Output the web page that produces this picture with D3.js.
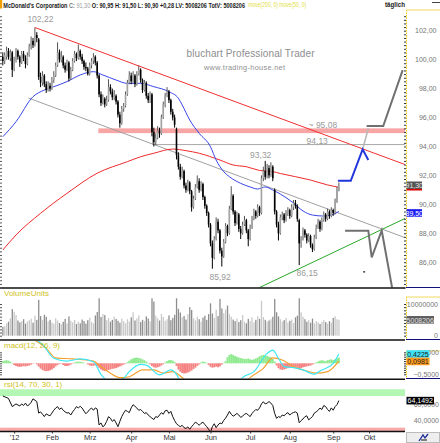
<!DOCTYPE html>
<html><head><meta charset="utf-8">
<script src="https://cdn.jsdelivr.net/npm/d3@7"></script>
<style>
body{margin:0;background:#fff}
svg{display:block}
text{font-family:"Liberation Sans",Arial,sans-serif}
</style></head>
<body><svg id="c" width="440" height="443"></svg>
<script>
// ---------- DATA ----------
const months = ["'12","Feb","Mrz","Apr","Mai","Jun","Jul","Aug","Sep","Okt"];
const monthStart = [6,26,46,68,88,110,131,152,175,194]; // trading-day index of first session
const open = [
100.2,99.9,100.2,100.6,100.1,100.5,99.4,100.0,100.6,100.2,
99.8,100.4,100.1,99.7,100.3,100.9,101.3,101.0,101.7,101.4,
98.8,98.4,98.9,98.3,97.9,98.2,98.0,98.6,98.9,99.6,
100.5,100.0,100.2,99.6,99.3,99.8,98.7,99.3,99.9,100.4,
100.1,100.6,100.2,99.9,99.5,99.4,99.0,99.6,99.9,100.2,
99.8,98.9,97.6,97.0,97.3,96.9,97.2,98.1,97.8,97.4,
97.5,97.1,96.2,95.6,96.6,96.8,97.6,98.4,98.9,98.5,
98.9,98.3,99.0,99.3,98.6,97.9,98.4,97.5,97.2,97.6,
95.0,94.3,94.6,95.1,94.9,96.0,96.9,97.5,97.8,97.2,
96.4,96.0,95.2,93.4,92.6,91.9,92.3,91.3,91.0,91.5,
90.9,89.8,90.4,91.2,91.6,91.0,91.4,90.5,89.9,89.4,
88.6,87.3,86.3,87.6,88.8,88.2,86.8,86.4,87.4,88.5,
88.0,89.7,90.6,89.5,88.7,89.3,88.3,88.0,88.6,88.9,
88.2,87.6,88.4,89.0,89.5,89.2,89.8,89.4,91.8,92.3,
91.9,92.5,92.0,92.6,91.0,89.5,88.6,88.0,89.1,89.3,
88.9,89.4,89.6,89.2,89.8,90.1,89.9,88.9,87.3,87.6,
88.2,87.9,87.5,87.8,87.2,86.9,87.7,88.4,88.8,88.3,
88.9,89.3,89.0,89.5,89.2,89.6,89.4,90.2,90.95];
const high = [
100.5,100.5,100.9,100.8,100.7,100.6,100.2,100.8,100.7,100.3,
100.6,100.6,100.3,100.5,101.1,101.6,101.5,102.22,101.9,101.5,
99.1,99.2,99.0,98.5,98.5,98.4,98.8,99.2,99.8,101.2,
100.7,100.6,100.3,99.8,100.0,99.9,99.5,100.1,100.6,100.5,
101.05,100.7,100.4,100.0,99.8,99.5,99.8,100.1,100.45,100.3,
99.9,99.0,97.8,97.6,97.4,97.5,98.65,98.3,98.0,97.9,
97.6,97.2,96.4,96.8,97.0,97.8,98.6,99.2,99.1,99.2,
99.0,99.2,99.6,99.4,98.7,98.6,98.5,97.7,97.8,97.7,
95.3,94.9,95.4,95.3,96.2,97.1,97.7,98.1,97.9,97.3,
96.6,96.2,95.3,93.6,92.8,92.6,92.4,91.5,91.7,91.6,
91.0,90.6,91.4,92.0,91.8,91.6,91.5,90.6,90.0,89.5,
88.7,87.5,87.8,89.1,89.0,88.3,87.0,87.6,88.7,88.6,
89.9,91.25,90.7,89.6,89.5,89.4,88.5,88.8,89.2,89.0,
88.3,88.6,89.2,89.7,89.6,90.0,89.9,92.0,92.6,93.0,
92.8,92.7,92.9,92.7,91.1,89.6,88.8,89.3,89.5,89.4,
89.6,89.8,89.7,90.0,90.3,90.3,90.0,89.0,87.8,88.4,
88.3,88.0,88.0,87.9,87.3,87.9,88.6,89.0,88.9,89.1,
89.5,89.4,89.7,89.6,89.8,89.7,90.4,91.2,91.50];
const low = [
99.6,99.7,100.0,100.0,99.9,98.8,99.2,99.8,100.0,99.5,
99.7,99.9,99.4,99.6,100.2,100.7,100.8,100.9,101.2,98.6,
98.1,98.2,98.1,97.7,97.8,97.8,97.9,98.4,98.8,99.5,
99.8,99.8,99.4,99.1,99.2,98.5,98.6,99.2,99.8,99.9,
100.0,100.0,99.7,99.3,99.2,98.9,98.9,99.4,99.7,99.6,
98.7,97.4,96.8,96.9,96.7,96.8,97.1,97.6,97.2,97.2,
96.9,96.0,95.3,95.5,96.4,96.7,97.5,98.3,98.3,98.4,
98.1,98.2,98.9,98.4,97.7,97.8,97.3,97.0,97.0,94.7,
94.0,94.1,94.5,94.6,94.8,95.9,96.7,97.4,97.0,96.2,
95.8,95.3,93.1,92.4,91.7,91.8,91.1,90.8,90.9,90.7,
89.5,89.7,90.3,91.1,90.8,90.9,90.3,89.7,89.2,88.4,
87.1,85.55,86.2,87.5,88.0,86.6,85.7,86.3,87.3,87.8,
87.9,89.6,89.3,88.5,88.6,88.1,87.6,87.9,88.5,88.0,
87.1,87.5,88.3,88.9,89.0,89.1,89.2,89.3,91.6,91.7,
91.8,91.8,91.9,91.6,89.3,88.4,87.5,87.9,88.9,88.7,
88.8,89.2,89.0,89.1,89.6,89.7,88.8,85.8,87.0,87.5,
87.7,87.3,87.4,87.0,86.7,86.8,87.6,88.3,88.1,88.2,
88.8,88.8,88.9,89.0,89.1,89.2,89.3,90.1,90.90];
const close = [
99.9,100.3,100.6,100.2,100.5,99.3,100.0,100.6,100.2,99.8,
100.4,100.1,99.7,100.3,100.9,101.3,101.0,101.7,101.5,98.8,
98.4,98.9,98.3,97.9,98.2,98.0,98.6,98.9,99.6,100.5,
100.0,100.2,99.6,99.3,99.8,98.7,99.3,99.9,100.4,100.1,
100.6,100.2,99.9,99.5,99.4,99.0,99.6,99.9,100.2,99.8,
98.9,97.6,97.0,97.3,96.9,97.2,98.1,97.8,97.4,97.5,
97.1,96.2,95.6,96.6,96.8,97.6,98.4,98.9,98.5,98.9,
98.3,99.0,99.3,98.6,97.9,98.4,97.5,97.2,97.6,95.0,
94.3,94.6,95.1,94.9,96.0,96.9,97.5,97.8,97.2,96.4,
96.0,95.5,93.4,92.6,91.9,92.3,91.3,91.0,91.5,90.9,
89.8,90.4,91.2,91.6,91.0,91.4,90.5,89.9,89.4,88.6,
87.3,86.3,87.6,88.8,88.2,86.8,86.4,87.4,88.5,88.0,
89.7,90.6,89.5,88.7,89.3,88.3,88.0,88.6,88.9,88.2,
87.6,88.4,89.0,89.5,89.2,89.8,89.4,91.8,92.3,91.9,
92.5,92.0,92.6,91.8,89.5,88.6,88.0,89.1,89.3,88.9,
89.4,89.6,89.2,89.8,90.1,89.9,89.0,87.3,87.6,88.2,
87.9,87.5,87.8,87.2,86.9,87.7,88.4,88.8,88.3,88.9,
89.3,89.0,89.5,89.2,89.6,89.4,90.2,91.02,91.30];
const volumeM = [
2.8,3.0,3.9,4.4,5.5,8.4,7.5,6.5,4.8,4.2,
4.6,5.2,3.8,4.5,4.9,5.4,4.1,6.3,5.0,11.3,
6.2,5.0,6.6,6.0,4.5,5.0,4.2,3.8,5.5,4.8,
4.0,3.6,4.4,5.3,3.9,6.1,4.7,4.2,5.0,3.7,
4.4,3.9,5.1,4.6,3.8,4.9,5.7,4.3,3.9,6.4,
7.5,11.8,5.9,6.8,6.5,4.9,5.6,4.4,5.0,6.0,
5.3,4.7,4.1,5.4,4.6,3.9,5.2,4.5,5.8,7.4,
4.8,5.5,6.4,4.3,5.0,4.6,6.1,5.4,4.5,11.8,
10.8,6.3,5.5,4.8,6.9,5.9,4.7,5.2,6.4,4.9,
5.6,6.6,11.8,8.5,7.3,5.8,6.2,5.1,6.8,9.0,
8.1,5.5,4.8,6.0,5.2,4.4,5.7,6.3,5.0,6.8,
10.2,7.0,5.6,8.2,6.2,11.6,8.6,7.1,8.3,9.5,
6.8,6.0,5.1,4.6,5.4,4.3,4.9,6.5,4.4,3.9,
5.3,4.6,5.8,4.2,5.0,6.1,5.3,11.0,5.9,5.0,
4.4,4.8,5.2,6.0,11.6,7.4,6.1,5.2,4.5,4.9,
5.6,4.2,4.7,5.1,4.0,5.8,6.3,11.8,7.4,6.0,
5.2,4.4,4.9,4.1,5.4,3.9,4.6,4.2,3.7,4.4,
5.0,4.3,3.8,4.6,4.1,5.6,6.1,5.2,5.008206];
const macdHist = [
0.10,0.12,0.14,0.12,0.08,0.02,
-0.08,-0.12,-0.15,-0.16,-0.15,-0.13,-0.14,-0.12,-0.10,-0.06,-0.02,
0.00,-0.05,
-0.15,-0.24,-0.30,-0.34,-0.36,-0.35,-0.32,-0.28,-0.22,-0.14,-0.08,
-0.03,-0.02,
-0.08,-0.12,-0.12,-0.10,-0.06,-0.02,
0.04,0.07,0.08,0.07,0.05,0.03,0.00,
-0.05,-0.10,-0.12,-0.11,-0.09,-0.12,-0.20,
-0.28,-0.33,-0.35,-0.33,-0.30,-0.28,-0.25,-0.24,-0.22,-0.18,-0.14,
-0.10,-0.06,-0.02,
0.05,0.12,0.18,0.22,0.25,0.26,0.24,0.22,0.18,0.14,0.08,0.02,
-0.05,-0.12,-0.18,-0.20,-0.18,-0.15,-0.10,-0.04,
0.04,0.10,0.14,0.15,0.12,0.06,
-0.12,-0.28,-0.38,-0.44,-0.46,-0.45,-0.42,-0.38,-0.33,-0.26,-0.20,-0.12,-0.05,
0.04,0.08,0.06,0.02,
-0.08,-0.16,-0.20,-0.18,-0.15,-0.18,-0.14,-0.06,
0.02,0.10,
0.28,0.38,0.42,0.38,0.33,0.30,0.26,0.24,0.22,0.20,0.20,0.22,0.18,0.16,0.18,0.22,0.26,0.32,0.36,0.38,
0.36,0.34,0.30,0.28,0.20,0.08,
-0.10,-0.22,-0.28,-0.30,-0.28,-0.25,-0.22,-0.20,-0.18,-0.18,-0.16,-0.20,-0.24,-0.22,-0.18,-0.16,-0.14,-0.12,-0.10,-0.06,-0.02,
0.04,0.08,0.12,0.14,0.12,0.10,0.14,0.16,0.18,0.15,0.18,0.22,0.26];
const macdLine = [[0,1.3],[10,1.25],[17,1.1],[21,0.86],[27,0.23],[34,0.10],[41,0.20],[48,0.07],[52,-0.50],[55,-0.76],[60,-0.85],[64,-0.68],[67,-0.38],[73,-0.05],[76,-0.08],[83,-0.53],[89,-0.30],[92,-0.50],[95,-1.0],[100,-1.4],[110,-1.5],[120,-1.2],[125,-0.9],[127,-0.65],[133,-0.38],[140,0.45],[143,0.60],[146,0.23],[149,-0.15],[154,-0.20],[159,-0.30],[165,-0.50],[168,-0.35],[175,0.0],[178,0.4225]];
const macdSignal = [[0,1.2],[15,1.1],[23,0.68],[28,0.25],[37,0.20],[48,0.10],[52,-0.15],[57,-0.45],[62,-0.65],[67,-0.61],[74,-0.30],[80,-0.30],[85,-0.45],[90,-0.38],[95,-0.65],[100,-1.0],[110,-1.4],[120,-1.3],[128,-0.9],[131,-0.65],[138,-0.23],[143,0.25],[148,0.15],[154,-0.15],[161,-0.35],[166,-0.45],[172,-0.38],[178,0.0981]];
const rsi = [[0,70],[3,67],[5,56.6],[7,60],[9,57.4],[10,60],[11,58],[12,61],[13,57.5],[14,59],[15,62],[16,66.4],[18,63],[19,48.4],[20,50],[21,47],[22,44],[23,47.5],[24,46],[25,45],[26,48.4],[27,52],[28,54.8],[29,56.6],[30,53],[31,55],[32,52],[33,50],[34,48.5],[35,49],[36,46],[37,50],[38,53],[39,56.6],[40,55],[41,57],[42,54.8],[43,51],[44,47.6],[45,50],[46,53],[47,54.8],[48,52],[49,55],[50,53.5],[51,33.4],[52,36],[53,31],[54,33.4],[55,38],[56,43.9],[57,42],[58,38],[59,40.3],[60,36],[61,31.3],[62,38],[63,44],[64,48.4],[65,52],[66,50.6],[67,49],[68,55],[69,59],[70,57],[71,54.8],[72,52],[73,53],[74,50.6],[75,48],[76,49],[77,46],[78,44],[79,42],[80,40.3],[81,44],[82,43],[83,46],[84,49],[85,47],[86,51.4],[87,52],[88,48],[89,50.6],[90,44],[91,39],[92,35],[93,33],[94,31.3],[95,33],[96,30],[97,29],[98,31],[99,28],[100,31.3],[101,34],[102,37],[103,35.5],[104,33],[105,35.5],[106,37],[107,34],[108,31.3],[109,28],[110,24],[111,31.3],[112,35],[113,30],[114,33.4],[115,36],[116,35],[117,39.2],[118,42],[119,46],[120,50.6],[121,47],[122,44.5],[123,46],[124,48],[125,46],[126,43],[127,44.5],[128,47],[129,48],[130,46],[131,44],[132,48],[133,50.6],[134,53],[135,52],[136,55],[137,60],[138,62.8],[139,60],[140,61],[141,63],[142,61],[143,58],[144,48],[145,41.8],[146,44],[147,43],[148,46],[149,45],[150,47.6],[151,49],[152,46],[153,48],[154,49.2],[155,50],[156,48.4],[157,36.3],[158,39],[159,41],[160,43.9],[161,45],[162,40],[163,41.8],[164,44],[165,48.4],[166,50],[167,52],[168,54.8],[169,53],[170,58],[171,56.6],[172,53],[173,50.6],[174,55],[175,52],[176,56.6],[177,59],[178,64.1492]];
const ma50 = [[0,94.67],[7,95.71],[16,97.44],[22,97.90],[27,98.13],[34,98.48],[41,98.94],[48,99.17],[53,98.94],[60,98.59],[66,98.36],[73,98.36],[80,98.13],[88,97.78],[93,97.33],[95,96.87],[99,95.83],[104,94.91],[110,93.98],[113,93.06],[117,92.26],[120,91.91],[126,91.45],[131,91.20],[135,91.06],[139,91.20],[143,90.99],[147,90.71],[154,90.09],[159,89.54],[164,89.26],[170,89.19],[174,89.26],[178,89.50]];
const ma200 = [[0,86.84],[7,87.88],[20,89.38],[34,90.76],[50,92.15],[66,92.95],[73,93.29],[80,93.53],[90,93.82],[97,93.71],[104,93.53],[115,93.06],[122,92.72],[129,92.60],[136,92.34],[143,92.26],[147,92.13],[163,91.68],[172,91.34],[178,91.18]];
const resistLine = [[17.05,102.22],[213,92.75]];
const channelLine = [[13.5,97.35],[213,87.7]];
const supportLine = [[135.5,84.22],[213,89.02]];
const zone = {start:50.6, lo:94.92, hi:95.25, label:"~ 95,08"};
const levelLine = [[79.3,95.2],[79.3,94.13],[213,94.13]];
const projBlue = [[177.5,91.63],[184.3,91.63],[190.6,93.80],[193.6,93.06]];
const projLink = [[190.6,93.80],[193.6,95.25]];
const projUp = [[192.7,95.41],[201.5,95.41],[211.8,99.28]];
const projDown = [[181.3,88.18],[193.6,88.18],[195.4,86.33],[200.7,88.19],[206.9,83.73]];
const projDot = [191.4,85.34];
const priceTicks = [86,88,90,92,94,96,98,100,102];

// ---------- SETUP ----------
const svg = d3.select("#c");
const loc = d3.formatLocale({decimal:",",thousands:".",grouping:[3],currency:["","€"]});
const f2 = loc.format(".2f"), f4 = loc.format(".4f");
const N = close.length;
const x = d3.scaleLinear().domain([0,213]).range([2.8, 2.8+213*1.888]);
const yP = d3.scaleLinear().domain([86,102]).range([262.2,30.7]);
const yV = d3.scaleLinear().domain([0,10]).range([335.7,304]);
const yM = d3.scaleLinear().domain([-0.5,0.5]).range([374.3,352.3]);
const yR = d3.scaleLinear().domain([30,70]).range([427.7,396]);
const PR = 405;

const defs = svg.append("defs");
function clip(id,y0,y1){defs.append("clipPath").attr("id",id).append("rect").attr("x",0).attr("y",y0).attr("width",PR).attr("height",y1-y0);}
clip("cp",12,287.5); clip("cm",341,378.5); clip("cr",380,431);

svg.append("rect").attr("width",440).attr("height",443).attr("fill","#fff");

// watermark
svg.append("text").attr("x",186.5).attr("y",53.5).attr("dominant-baseline","central")
  .attr("font-size",10).attr("fill","#8e8e8e").attr("textLength",128).attr("lengthAdjust","spacing")
  .text("bluchart Professional Trader");
svg.append("text").attr("x",204).attr("y",67).attr("dominant-baseline","central")
  .attr("font-size",7.3).attr("fill","#8e8e8e").attr("textLength",81).attr("lengthAdjust","spacing")
  .text("www.trading-house.net");

// ---------- MAIN PRICE PANEL ----------
const gP = svg.append("g").attr("clip-path","url(#cp)");
const lineP = d3.line().x(d=>x(d[0])).y(d=>yP(d[1]));
gP.append("rect").attr("x",x(zone.start)).attr("width",PR-x(zone.start))
  .attr("y",yP(zone.hi)).attr("height",yP(zone.lo)-yP(zone.hi)).attr("fill","#f7a5a5");
gP.append("path").attr("d",lineP(levelLine)).attr("fill","none").attr("stroke","#a8a8a8").attr("stroke-width",1);
gP.append("path").attr("d",lineP(channelLine)).attr("fill","none").attr("stroke","#a0a0a0").attr("stroke-width",1);
const lineS = d3.line().x(d=>x(d[0])).y(d=>yP(d[1])).curve(d3.curveMonotoneX);
gP.append("path").attr("d",lineS(ma200)).attr("fill","none").attr("stroke","#ee2a2a").attr("stroke-width",1);
gP.append("path").attr("d",lineS(ma50)).attr("fill","none").attr("stroke","#3846e8").attr("stroke-width",1);

// candles
const idx = d3.range(N);
gP.append("g").selectAll("line").data(idx).join("line")
  .attr("x1",i=>x(i)).attr("x2",i=>x(i)).attr("y1",i=>yP(high[i])).attr("y2",i=>yP(low[i]))
  .attr("stroke",i=>close[i]>=open[i]?"#555":"#000").attr("stroke-width",1);
gP.append("g").selectAll("rect").data(idx).join("rect")
  .attr("x",i=>x(i)-0.8).attr("width",1.6)
  .attr("y",i=>yP(Math.max(open[i],close[i])))
  .attr("height",i=>Math.max(1,Math.abs(yP(open[i])-yP(close[i]))))
  .attr("fill",i=>close[i]>=open[i]?"#a4a4a4":"#000");

gP.append("path").attr("d",lineP(resistLine)).attr("fill","none").attr("stroke","#f03030").attr("stroke-width",1);
gP.append("path").attr("d",lineP(supportLine)).attr("fill","none").attr("stroke","#2aa82a").attr("stroke-width",1);
gP.append("path").attr("d",lineP(projLink)).attr("fill","none").attr("stroke","#b8b8b8").attr("stroke-width",1.6);
gP.append("path").attr("d",lineP(projUp)).attr("fill","none").attr("stroke","#707070").attr("stroke-width",2);
gP.append("path").attr("d",lineP(projDown)).attr("fill","none").attr("stroke","#707070").attr("stroke-width",2);
gP.append("path").attr("d",lineP(projBlue)).attr("fill","none").attr("stroke","#2236dd").attr("stroke-width",2);
gP.append("rect").attr("x",x(projDot[0])-1).attr("y",yP(projDot[1])-0.6).attr("width",2).attr("height",1.4).attr("fill","#333");

// annotations
const ann = svg.append("g").attr("font-size",8.5).attr("fill","#9a9a9a").attr("text-anchor","middle").attr("dominant-baseline","central");
const iMax = d3.maxIndex(high), iMin = d3.minIndex(low);
ann.append("text").attr("x",x(iMax)+5.5).attr("y",yP(high[iMax])-8.2).text("102,22");
ann.append("text").attr("x",x(iMin)+7.8).attr("y",yP(low[iMin])+8.6).text("85,92");
ann.append("text").attr("x",x(157)+8).attr("y",yP(low[157])+8).text("86,15");
ann.append("text").attr("x",x(139)-4.5).attr("y",yP(high[139])-6).text("93,32");
ann.append("text").attr("x",x(169)+1).attr("y",yP(95.08)-5.5).text(zone.label);
ann.append("text").attr("x",x(166)+1).attr("y",yP(94.13)-3.3).text("94,13");

// ---------- VOLUME ----------
const gV = svg.append("g");
gV.selectAll("rect").data(idx).join("rect")
  .attr("x",i=>x(i)-0.6).attr("width",1.3)
  .attr("y",i=>yV(volumeM[i])).attr("height",i=>yV(0)-yV(volumeM[i]))
  .attr("fill",i=>close[i]>=open[i]?"#c9c9c9":"#8e8e8e");

// ---------- MACD ----------
const gM = svg.append("g").attr("clip-path","url(#cm)");
gM.selectAll("rect").data(idx).join("rect")
  .attr("x",i=>x(i)-0.95).attr("width",1.9)
  .attr("y",i=>Math.min(yM(0),yM(macdHist[i]))).attr("height",i=>Math.abs(yM(macdHist[i])-yM(0)))
  .attr("fill",i=>macdHist[i]>=0?"#8fea8f":"#f58282");
const lineM = d3.line().x(d=>x(d[0])).y(d=>yM(d[1])).curve(d3.curveMonotoneX);
gM.append("path").attr("d",lineM(macdSignal)).attr("fill","none").attr("stroke","#f6a030").attr("stroke-width",1.2);
gM.append("path").attr("d",lineM(macdLine)).attr("fill","none").attr("stroke","#3ee6f4").attr("stroke-width",1.2);

// ---------- RSI ----------
const gR = svg.append("g").attr("clip-path","url(#cr)");
gR.append("rect").attr("x",0).attr("width",PR).attr("y",yR(78.5)).attr("height",yR(70)-yR(78.5)).attr("fill","#b4f7b4");
gR.append("rect").attr("x",0).attr("width",PR).attr("y",yR(30)).attr("height",431-yR(30)).attr("fill","#f7a8a8");
gR.append("path").attr("d",d3.line().x(d=>x(d[0])).y(d=>yR(d[1]))(rsi)).attr("fill","none").attr("stroke","#111").attr("stroke-width",1);

// ---------- PANEL LABELS ----------
const pl = svg.append("g").attr("font-size",8).attr("fill","#cfc21a").attr("dominant-baseline","central");
pl.append("text").attr("x",4).attr("y",293.5).text("VolumeUnits");
pl.append("text").attr("x",4).attr("y",345.8).text("macd(12, 26, 9)");
pl.append("text").attr("x",4).attr("y",384.3).text("rsi(14, 70, 30, 1)");

// ---------- SEPARATORS ----------
[288,340,379.3,431.5].forEach(y=>svg.append("line").attr("x1",0).attr("x2",PR).attr("y1",y).attr("y2",y).attr("stroke","#111").attr("stroke-width",1.6));

// ---------- RIGHT AXES ----------
function axisBox(y0,y1){
  svg.append("line").attr("x1",406.5).attr("x2",406.5).attr("y1",y0).attr("y2",y1).attr("stroke","#e8c800").attr("stroke-width",1).attr("stroke-dasharray","1.5,1");
  svg.append("line").attr("x1",406).attr("x2",440).attr("y1",y0).attr("y2",y0).attr("stroke","#f0d860").attr("stroke-width",1);
  svg.append("line").attr("x1",406).attr("x2",440).attr("y1",y1).attr("y2",y1).attr("stroke","#10107a").attr("stroke-width",1.2);
}
axisBox(10,287.5); axisBox(297,339.5); axisBox(351,378.5);

function styleAxis(g,xr){
  g.select(".domain").remove();
  g.selectAll("text").attr("x",xr).attr("text-anchor","end").attr("font-size",7).attr("fill","#777")
   .attr("font-family","Liberation Sans, Arial, sans-serif");
}
function minorTicks(scale,vals){
  svg.append("g").attr("transform","translate(406,0)").call(d3.axisLeft(scale).tickValues(vals).tickSize(2).tickFormat(""))
    .call(g=>{g.select(".domain").remove();g.selectAll("line").attr("stroke","#333");});
  svg.append("g").call(d3.axisRight(scale).tickValues(vals).tickSize(2).tickFormat(""))
    .call(g=>{g.select(".domain").remove();g.selectAll("line").attr("stroke","#555");});
}
minorTicks(yP,d3.range(84.25,103.2,0.25));
minorTicks(yV,d3.range(0,11,1));
minorTicks(yM,d3.range(-0.5,0.55,0.1));

svg.append("g").attr("transform","translate(406,0)")
  .call(d3.axisRight(yP).tickValues(priceTicks).tickSize(0).tickFormat(f2)).call(g=>styleAxis(g,30.5));
svg.append("g").attr("transform","translate(406,0)")
  .call(d3.axisRight(yV).tickValues([0,10]).tickSize(0).tickFormat(d=>d3.format("d")(d*1e6))).call(g=>styleAxis(g,32));
svg.append("g").attr("transform","translate(406,0)")
  .call(d3.axisRight(yM).tickValues([-0.5,0.5]).tickSize(0).tickFormat(f4)).call(g=>styleAxis(g,33));
svg.append("g").attr("transform","translate(406,0)")
  .call(d3.axisRight(yR).tickValues([40,60]).tickSize(0).tickFormat(f4)).call(g=>styleAxis(g,33));

function valBox(y,w,txt,bg,fg,under){
  svg.append("rect").attr("x",406.5).attr("y",y-3.8).attr("width",w).attr("height",7.6).attr("fill",bg);
  if(under) svg.append("rect").attr("x",406.5).attr("y",y+3.6).attr("width",w).attr("height",1.6).attr("fill",under);
  svg.append("text").attr("x",406.5+w/2).attr("y",y+0.2).attr("dominant-baseline","central").attr("text-anchor","middle")
    .attr("font-size",7).attr("fill",fg).text(txt);
}
valBox(yP(close[N-1])-0.2,15.5,f2(close[N-1]),"#555","#e6e6e6","#e00000");
valBox(yP(ma50[ma50.length-1][1])+1.4,15.5,f2(ma50[ma50.length-1][1]),"#1c1cf0","#fff");
valBox(yV(volumeM[N-1]),27.5,d3.format("d")(Math.round(volumeM[N-1]*1e6)),"#5e5e5e","#e0e0e0");
valBox(yM(macdLine[macdLine.length-1][1]),23,f4(macdLine[macdLine.length-1][1]),"#3fe2f8","#222");
valBox(yM(macdSignal[macdSignal.length-1][1])+0.3,23,f4(macdSignal[macdSignal.length-1][1]),"#ff9a1e","#222");
valBox(yR(rsi[rsi.length-1][1]),27.5,f4(rsi[rsi.length-1][1]),"#000","#fff");

// ---------- X AXIS ----------
svg.append("g").attr("transform","translate(0,431.5)")
  .call(d3.axisBottom(x).tickValues(monthStart).tickSize(2).tickPadding(1).tickFormat((d,i)=>months[i]))
  .call(g=>{g.select(".domain").remove();g.selectAll("line").attr("stroke","#333");
    g.selectAll("text").attr("font-size",7.5).attr("fill","#333").attr("font-family","Liberation Sans, Arial, sans-serif");});

// corner button
svg.append("rect").attr("x",406.5).attr("y",432.5).attr("width",33).attr("height",10).attr("fill","#eeeeee").attr("stroke","#bbb");
svg.append("path").attr("d","M419,441 L423,435 L425,438 L428,434").attr("fill","none").attr("stroke","#1a2a9a").attr("stroke-width",1.3);
svg.append("path").attr("d","M421,440 L427,440").attr("stroke","#111").attr("stroke-width",1);

// ---------- HEADER ----------
svg.append("rect").attr("x",0).attr("y",0).attr("width",2.2).attr("height",8.5).attr("fill","#f2a000");
const hfont = "'Liberation Sans Narrow','Liberation Sans',Arial,sans-serif";
const hdr = svg.append("text").attr("x",3.3).attr("y",4.8).attr("font-size",7.2).attr("dominant-baseline","central")
  .attr("font-family",hfont).attr("textLength",241.7).attr("lengthAdjust","spacingAndGlyphs");
[
  ["McDonald's Corporation ","#1a1a1a","bold"],
  ["C: ","#7a7a7a","bold"],
  [f2(close[N-1])+" ","#9a9a9a","normal"],
  ["O: "+f2(open[N-1])+" H: "+f2(high[N-1])+" L: "+f2(low[N-1])+" +"+f2(close[N-1]-close[N-2])+" LV: 5008206 TotV: 5008206","#1a1a1a","bold"]
].forEach(p=>hdr.append("tspan").attr("fill",p[1]).attr("font-weight",p[2]).text(p[0]));
svg.append("text").attr("x",248.3).attr("y",4.8).attr("font-size",7.2).attr("dominant-baseline","central")
  .attr("font-family",hfont).attr("textLength",57.9).attr("lengthAdjust","spacingAndGlyphs").attr("fill","#e2e040")
  .text("move(200, 0) move(50, 0)");
svg.append("text").attr("x",385).attr("y",4.8).attr("font-size",7.2).attr("dominant-baseline","central").attr("font-weight","bold")
  .attr("font-family",hfont).attr("textLength",20).attr("lengthAdjust","spacingAndGlyphs").attr("fill","#1a1a1a").text("täglich");
svg.append("line").attr("x1",432).attr("x2",440).attr("y1",2.5).attr("y2",2.5).attr("stroke","#444").attr("stroke-width",1);
</script></body></html>
